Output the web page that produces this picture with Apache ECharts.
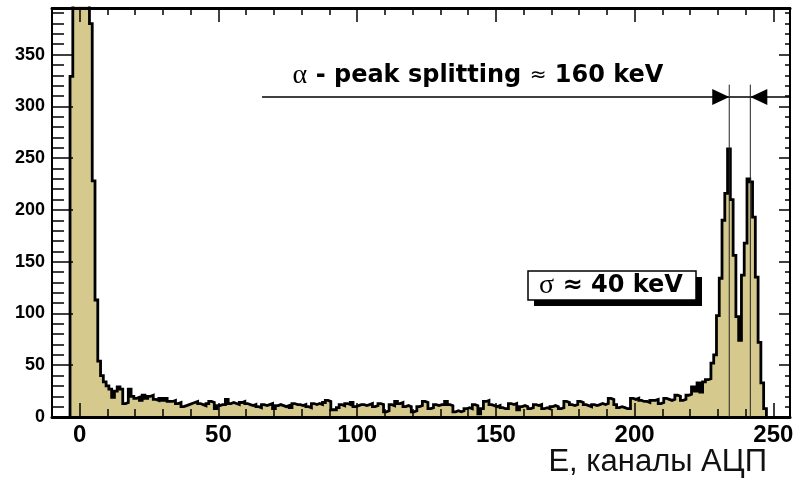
<!DOCTYPE html>
<html><head><meta charset="utf-8">
<script src="https://cdn.jsdelivr.net/npm/echarts@6/dist/echarts.min.js"></script>
<style>html,body{margin:0;padding:0;background:#fff}#c{width:795px;height:485px}</style>
</head><body><div id="c"></div>
<script>
// ---- data ----
const firstChannel = -3;            // channel of the first bin (bins are 1 channel wide, centred)
const counts = [
  329, 900, 1600, 2000, 1700, 1100, 600, 380, 228, 113,   // -3..6
  54, 40, 34, 30, 27, 19, 25, 29, 27, 13,                  // 7..16
  14, 27, 20, 18, 19, 16, 21, 18, 20, 21,                  // 17..26
  17, 16, 18, 16, 18, 15, 15, 16, 13, 14,                  // 27..36
  10, 11, 12, 13, 14, 15, 13, 12, 11, 13,                  // 37..46
  15, 14, 8, 11, 12, 12, 17, 13, 14, 13,                   // 47..56
  12, 14, 15, 13, 12, 11, 12, 10, 9, 12,                   // 57..66
  11, 12, 13, 8, 11, 12, 11, 10, 11, 9,                    // 67..76
  13, 12, 12, 11, 12, 10, 9, 13, 12, 13,                   // 77..86
  12, 14, 16, 15, 7, 7, 9, 12, 11, 13,                     // 87..96
  12, 14, 10, 11, 12, 12, 11, 12, 13, 10,                  // 97..106
  11, 13, 12, 5, 6, 12, 11, 15, 13, 14,                    // 107..116
  10, 11, 10, 5, 6, 10, 11, 15, 14, 8,                     // 117..126
  9, 12, 11, 12, 12, 15, 12, 11, 5, 6,                     // 127..136
  5, 6, 8, 9, 8, 12, 11, 3, 8, 15,                         // 137..146
  16, 12, 11, 10, 11, 9, 8, 8, 13, 12,                     // 147..156
  13, 7, 10, 11, 10, 8, 9, 12, 11, 12,                     // 157..166
  8, 9, 8, 10, 11, 10, 8, 9, 15, 14,                       // 167..176
  12, 11, 12, 15, 14, 12, 11, 10, 12, 11,                  // 177..186
  12, 13, 12, 13, 18, 17, 12, 9, 10, 9,                    // 187..196
  8, 8, 18, 17, 18, 16, 15, 15, 14, 16,                    // 197..206
  16, 17, 13, 14, 18, 17, 16, 17, 21, 20,                  // 207..216
  16, 17, 21, 22, 29, 25, 33, 24, 34, 36,                  // 217..226
  37, 52, 60, 98, 134, 190, 216, 259, 210, 156,            // 227..236
  97, 74, 137, 168, 230, 227, 193, 135, 72, 33,            // 237..246
  8                                                        // 247
];
const xMin = -10, xMax = 256, yMin = 0, yMax = 395;
const xMajorTicks = [0, 50, 100, 150, 200, 250];
const xMinorTicks = [-10, 0, 10, 20, 30, 40, 50, 60, 70, 80, 90, 100, 110, 120, 130, 140, 150, 160, 170, 180, 190, 200, 210, 220, 230, 240, 250];
const yMajorTicks = [0, 50, 100, 150, 200, 250, 300, 350];
const yMinorTicks = [0, 10, 20, 30, 40, 50, 60, 70, 80, 90, 100, 110, 120, 130, 140, 150, 160, 170, 180, 190, 200, 210, 220, 230, 240, 250, 260, 270, 280, 290, 300, 310, 320, 330, 340, 350, 360, 370, 380, 390];
const peakPositions = [234.1, 241.7];   // channels of the two alpha lines
const peakLineTop = 321;                // height of the marker lines
const arrowLevel = 309;                 // level of the splitting arrow
const arrowStart = 65.7;                // channel where the arrow line starts
const splittingText = 'α - peak splitting ≈ 160 keV';
const sigmaText = 'σ ≈ 40 keV';
const xTitle = 'E, каналы АЦП';

// ---- build step histogram ----
const stepData = [[firstChannel - 0.5, 0]];
counts.forEach((v, i) => stepData.push([firstChannel + i - 0.5, v]));
stepData.push([firstChannel + counts.length - 0.5, 0]);

const chart = echarts.init(document.getElementById('c'), null, {renderer: 'canvas'});
const black = '#000';
function xAx(pos, ticks, len, showLine, labels, lw) {
  return {
    type: 'value', min: xMin, max: xMax, position: pos, z: 5,
    axisLine: {show: showLine, onZero: false, lineStyle: {color: black, width: lw}},
    axisTick: {show: true, inside: true, length: len, customValues: ticks, lineStyle: {color: black, width: 1.5}},
    axisLabel: labels ? {show: true, customValues: xMajorTicks, color: black, fontFamily: 'Liberation Sans', fontWeight: 'bold', fontSize: 24, margin: 6} : {show: false},
    splitLine: {show: false}
  };
}
function yAx(pos, ticks, len, showLine, labels, lw) {
  return {
    type: 'value', min: yMin, max: yMax, position: pos, z: 5,
    axisLine: {show: showLine, onZero: false, lineStyle: {color: black, width: lw}},
    axisTick: {show: true, inside: true, length: len, customValues: ticks, lineStyle: {color: black, width: 1.5}},
    axisLabel: labels ? {show: true, customValues: yMajorTicks, color: black, fontFamily: 'Liberation Sans', fontWeight: 'bold', fontSize: 18, margin: 7} : {show: false},
    splitLine: {show: false}
  };
}

chart.setOption({
  animation: false,
  backgroundColor: '#fff',
  grid: {left: 52, right: 5, top: 8, bottom: 68, containLabel: false, outerBoundsMode: 'none'},
  xAxis: [
    xAx('bottom', xMajorTicks, 14, true, true, 3),
    xAx('bottom', xMinorTicks, 8, false, false, 1),
    xAx('top', xMajorTicks, 14, true, false, 3),
    xAx('top', xMinorTicks, 7, false, false, 1)
  ],
  yAxis: [
    yAx('left', yMajorTicks, 21, true, true, 2),
    yAx('left', yMinorTicks, 12, false, false, 1),
    yAx('right', yMajorTicks, 11, true, false, 2),
    yAx('right', yMinorTicks, 5, false, false, 1)
  ],
  series: [
    {
      type: 'line', step: 'end', xAxisIndex: 0, yAxisIndex: 0,
      data: stepData, symbol: 'none', clip: true, z: 2,
      lineStyle: {color: black, width: 2.8, join: 'miter'},
      areaStyle: {color: '#d5c98d', opacity: 1}
    },
    {
      type: 'custom', xAxisIndex: 0, yAxisIndex: 0, clip: false, silent: true, z: 6,
      data: [[peakPositions[0], arrowLevel]],
      renderItem: function (params, api) {
        const s = api.coord([arrowStart, arrowLevel]);
        const e = api.coord([xMax, arrowLevel]);
        const p1 = api.coord([peakPositions[0], arrowLevel]);
        const p2 = api.coord([peakPositions[1], arrowLevel]);
        const children = [
          {type: 'line', shape: {x1: s[0], y1: s[1], x2: e[0], y2: e[1]}, style: {stroke: black, lineWidth: 1.5}},
          {type: 'polygon', shape: {points: [[p1[0], p1[1]], [p1[0] - 17, p1[1] - 8], [p1[0] - 17, p1[1] + 8]]}, style: {fill: black}},
          {type: 'polygon', shape: {points: [[p2[0], p2[1]], [p2[0] + 17, p2[1] - 8], [p2[0] + 17, p2[1] + 8]]}, style: {fill: black}}
        ];
        peakPositions.forEach(p => {
          const b = api.coord([p, 0]);
          const t = api.coord([p, peakLineTop]);
          children.push({type: 'line', shape: {x1: b[0], y1: b[1], x2: t[0], y2: t[1]}, style: {stroke: '#222', lineWidth: 1}});
        });
        return {type: 'group', children: children};
      }
    }
  ],
  graphic: [
    {type: 'text', x: 478, y: 76, z: 10, style: {
      text: '{a|α}{b| - peak splitting }{c|≈}{b| 160 keV}',
      align: 'center', verticalAlign: 'middle',
      rich: {
        a: {fontFamily: 'Liberation Serif', fontSize: 28, fill: black},
        b: {fontFamily: 'DejaVu Sans', fontWeight: 'bold', fontSize: 24, fill: black},
        c: {fontFamily: 'DejaVu Sans', fontSize: 20, fill: black}
      }
    }},
    {type: 'rect', z: 9, shape: {x: 534, y: 277, width: 168, height: 29}, style: {fill: black}},
    {type: 'rect', z: 10, shape: {x: 528, y: 271, width: 168, height: 29}, style: {fill: '#fff', stroke: black, lineWidth: 1.5}},
    {type: 'text', x: 611, y: 286, z: 11, style: {
      text: '{a|σ}{b| ≈ }{b|40 keV}', align: 'center', verticalAlign: 'middle',
      rich: {
        a: {fontFamily: 'Liberation Serif', fontSize: 28, fill: black},
        b: {fontFamily: 'DejaVu Sans', fontWeight: 'bold', fontSize: 24, fill: black}
      }
    }},
    {type: 'text', x: 767, y: 462, z: 10, style: {
      text: xTitle, align: 'right', verticalAlign: 'middle',
      fontFamily: 'Liberation Sans', fontSize: 31, fill: '#111'
    }}
  ]
});
</script></body></html>
